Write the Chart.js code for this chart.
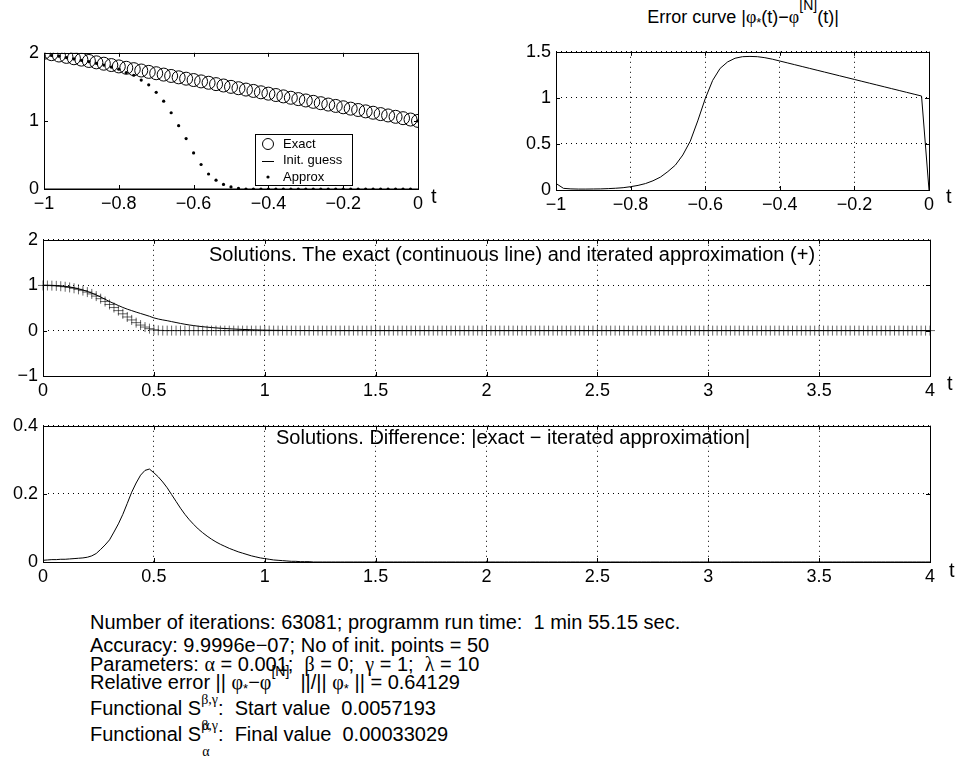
<!DOCTYPE html>
<html>
<head>
<meta charset="utf-8">
<script src="https://cdn.jsdelivr.net/npm/chart.js@4.4.0/dist/chart.umd.min.js"></script>
<style>
  body { margin: 0; background: #fff; width: 956px; height: 757px; position: relative; overflow: hidden;
         font-family: "Liberation Sans", Arial, Helvetica, sans-serif; color: #000; }
  canvas { position: absolute; }
  .txt { position: absolute; white-space: pre; font-size: 20px; line-height: 20px; }
  .g { font-family: "Liberation Serif", "DejaVu Serif", serif; }
  .up { position: relative; top: -13px; font-size: 14px; }
  .dn { position: relative; top: 4px; font-size: 13px; }
  .ss { position: relative; display: inline-block; }
  .ss .sp { position: relative; top: -11px; font-size: 14px; }
  .ss .sb { position: absolute; left: 1px; top: 18px; font-size: 14px; }
</style>
</head>
<body>
<canvas id="c1" width="442" height="186" style="left:0px;top:37px"></canvas>
<canvas id="c2" width="453" height="188" style="left:500px;top:36px"></canvas>
<canvas id="c3" width="950" height="186" style="left:0px;top:224px"></canvas>
<canvas id="c4" width="950" height="186" style="left:0px;top:410px"></canvas>

<div class="txt" style="left:743px;top:7px;font-size:18px;transform:translateX(-50%)">Error curve |<span class="g">φ</span><span class="dn">*</span>(t)−<span class="g">φ</span><span class="up">[N]</span>(t)|</div>
<div class="txt" style="left:431px;top:186px">t</div>
<div class="txt" style="left:946px;top:186px">t</div>
<div class="txt" style="left:947px;top:373px">t</div>
<div class="txt" style="left:949px;top:560px">t</div>
<div class="txt" style="left:512px;top:244px;transform:translateX(-50%)">Solutions. The exact (continuous line) and iterated approximation (+)</div>
<div class="txt" style="left:276px;top:427px">Solutions. Difference: |exact − iterated approximation|</div>

<div class="txt" style="left:90px;top:612px">Number of iterations: 63081; programm run time:  1 min 55.15 sec.</div>
<div class="txt" style="left:90px;top:635px">Accuracy: 9.9996e−07; No of init. points = 50</div>
<div class="txt" style="left:90px;top:654px">Parameters: <span class="g">α</span> = 0.001;  <span class="g">β</span> = 0;  <span class="g">γ</span> = 1;  <span class="g">λ</span> = 10</div>
<div class="txt" style="left:90px;top:672px">Relative error || <span class="g">φ</span><span class="dn">*</span>−<span class="g">φ</span><span class="up">[N]</span>  ||/|| <span class="g">φ</span><span class="dn">*</span> || = 0.64129</div>
<div class="txt" style="left:90px;top:698px">Functional S<span class="ss"><span class="sp g">β,γ</span><span class="sb g">α</span></span>:  Start value  0.0057193</div>
<div class="txt" style="left:90px;top:724px">Functional S<span class="ss"><span class="sp g">β,γ</span><span class="sb g">α</span></span>:  Final value  0.00033029</div>

<script>
// ---- data ----
// left panels: t = -1 .. 0, step 0.02 (51 nodes)
const tLeft = Array.from({ length: 51 }, (_, i) => +(-1 + i * 0.02).toFixed(2));
const exactLeft = [2.00, 1.98, 1.96, 1.94, 1.92, 1.90, 1.88, 1.86, 1.84, 1.82,
  1.80, 1.78, 1.76, 1.74, 1.72, 1.70, 1.68, 1.66, 1.64, 1.62,
  1.60, 1.58, 1.56, 1.54, 1.52, 1.50, 1.48, 1.46, 1.44, 1.42,
  1.40, 1.38, 1.36, 1.34, 1.32, 1.30, 1.28, 1.26, 1.24, 1.22,
  1.20, 1.18, 1.16, 1.14, 1.12, 1.10, 1.08, 1.06, 1.04, 1.02, 1.00];
const approxLeft = [1.93, 1.96, 1.95, 1.93, 1.91, 1.89, 1.87, 1.845, 1.82, 1.79,
  1.76, 1.71, 1.67, 1.60, 1.53, 1.42, 1.29, 1.12, 0.93, 0.74,
  0.53, 0.36, 0.22, 0.13, 0.067, 0.03, 0.01, 0, 0, 0,
  0, 0, 0, 0, 0, 0, 0, 0, 0, 0,
  0, 0, 0, 0, 0, 0, 0, 0, 0, 0, 1.00];
const initGuessT = [-1, 0];
const initGuess = [0, 0];
const errLeft = [0.071, 0.018, 0.012, 0.010, 0.010, 0.011, 0.012, 0.015, 0.019, 0.025,
  0.036, 0.050, 0.070, 0.100, 0.140, 0.200, 0.270, 0.380, 0.530, 0.750,
  0.990, 1.190, 1.320, 1.390, 1.430, 1.447, 1.450, 1.447, 1.436, 1.420,
  1.400, 1.380, 1.360, 1.340, 1.320, 1.300, 1.280, 1.260, 1.240, 1.220,
  1.200, 1.180, 1.160, 1.140, 1.120, 1.100, 1.080, 1.060, 1.040, 1.020, 0.000];

// lower panels: t = 0 .. 4, step 0.02 (201 nodes)
const tRight = Array.from({ length: 201 }, (_, i) => +(i * 0.02).toFixed(2));
const exactRight = [1.000, 0.999, 0.997, 0.993, 0.985, 0.974, 0.960, 0.942, 0.920, 0.893,
  0.862, 0.826, 0.785, 0.740, 0.690, 0.640, 0.596, 0.552, 0.510, 0.472,
  0.440, 0.407, 0.377, 0.347, 0.316, 0.280, 0.255, 0.235, 0.218, 0.198,
  0.178, 0.158, 0.140, 0.124, 0.110, 0.097, 0.086, 0.076, 0.067, 0.059,
  0.052, 0.046, 0.040, 0.035, 0.030, 0.026, 0.022, 0.018, 0.015, 0.012,
  0.010, 0.008, 0.006, 0.005, 0.004, 0.003, 0.002, 0.002, 0.001, 0.001,
  0.001,
  0, 0, 0, 0, 0, 0, 0, 0, 0, 0, 0, 0, 0, 0, 0, 0, 0, 0, 0, 0,
  0, 0, 0, 0, 0, 0, 0, 0, 0, 0, 0, 0, 0, 0, 0, 0, 0, 0, 0, 0,
  0, 0, 0, 0, 0, 0, 0, 0, 0, 0, 0, 0, 0, 0, 0, 0, 0, 0, 0, 0,
  0, 0, 0, 0, 0, 0, 0, 0, 0, 0, 0, 0, 0, 0, 0, 0, 0, 0, 0, 0,
  0, 0, 0, 0, 0, 0, 0, 0, 0, 0, 0, 0, 0, 0, 0, 0, 0, 0, 0, 0,
  0, 0, 0, 0, 0, 0, 0, 0, 0, 0, 0, 0, 0, 0, 0, 0, 0, 0, 0, 0,
  0, 0, 0, 0, 0, 0, 0, 0, 0, 0, 0, 0, 0, 0, 0, 0, 0, 0, 0, 0];
const approxRight = [0.995, 0.993, 0.990, 0.986, 0.977, 0.966, 0.951, 0.932, 0.909, 0.881,
  0.848, 0.808, 0.760, 0.703, 0.640, 0.575, 0.508, 0.440, 0.370, 0.300,
  0.235, 0.175, 0.122, 0.078, 0.043, 0.018, 0.005,
  0, 0, 0, 0, 0, 0, 0, 0, 0, 0, 0, 0, 0, 0, 0, 0, 0, 0, 0, 0,
  0, 0, 0, 0, 0, 0, 0, 0, 0, 0, 0, 0, 0, 0, 0, 0, 0, 0, 0, 0,
  0, 0, 0, 0, 0, 0, 0, 0, 0, 0, 0, 0, 0, 0, 0, 0, 0, 0, 0, 0,
  0, 0, 0, 0, 0, 0, 0, 0, 0, 0, 0, 0, 0, 0, 0, 0, 0, 0, 0, 0,
  0, 0, 0, 0, 0, 0, 0, 0, 0, 0, 0, 0, 0, 0, 0, 0, 0, 0, 0, 0,
  0, 0, 0, 0, 0, 0, 0, 0, 0, 0, 0, 0, 0, 0, 0, 0, 0, 0, 0, 0,
  0, 0, 0, 0, 0, 0, 0, 0, 0, 0, 0, 0, 0, 0, 0, 0, 0, 0, 0, 0,
  0, 0, 0, 0, 0, 0, 0, 0, 0, 0, 0, 0, 0, 0, 0, 0, 0, 0, 0, 0,
  0, 0, 0, 0, 0, 0, 0, 0, 0, 0, 0, 0, 0, 0];
const diffRight = [0.005, 0.006, 0.007, 0.007, 0.008, 0.008, 0.009, 0.010, 0.011, 0.012,
  0.014, 0.018, 0.025, 0.037, 0.050, 0.065, 0.088, 0.112, 0.140, 0.172,
  0.205, 0.232, 0.255, 0.269, 0.273, 0.262, 0.250, 0.235, 0.218, 0.198,
  0.178, 0.158, 0.140, 0.124, 0.110, 0.097, 0.086, 0.076, 0.067, 0.059,
  0.052, 0.046, 0.040, 0.035, 0.030, 0.026, 0.022, 0.018, 0.015, 0.012,
  0.010, 0.008, 0.006, 0.005, 0.004, 0.003, 0.002, 0.002, 0.001, 0.001,
  0.001,
  0, 0, 0, 0, 0, 0, 0, 0, 0, 0, 0, 0, 0, 0, 0, 0, 0, 0, 0, 0,
  0, 0, 0, 0, 0, 0, 0, 0, 0, 0, 0, 0, 0, 0, 0, 0, 0, 0, 0, 0,
  0, 0, 0, 0, 0, 0, 0, 0, 0, 0, 0, 0, 0, 0, 0, 0, 0, 0, 0, 0,
  0, 0, 0, 0, 0, 0, 0, 0, 0, 0, 0, 0, 0, 0, 0, 0, 0, 0, 0, 0,
  0, 0, 0, 0, 0, 0, 0, 0, 0, 0, 0, 0, 0, 0, 0, 0, 0, 0, 0, 0,
  0, 0, 0, 0, 0, 0, 0, 0, 0, 0, 0, 0, 0, 0, 0, 0, 0, 0, 0, 0,
  0, 0, 0, 0, 0, 0, 0, 0, 0, 0, 0, 0, 0, 0, 0, 0, 0, 0, 0, 0];

// ticks
const ticksLeftX = [-1, -0.8, -0.6, -0.4, -0.2, 0];
const labelsLeftX = ['−1', '−0.8', '−0.6', '−0.4', '−0.2', '0'];
const ticksSolY = [0, 1, 2];
const labelsSolY = ['0', '1', '2'];
const ticksErrY = [0, 0.5, 1, 1.5];
const labelsErrY = ['0', '0.5', '1', '1.5'];
const ticksRightX = [0, 0.5, 1, 1.5, 2, 2.5, 3, 3.5, 4];
const labelsRightX = ['0', '0.5', '1', '1.5', '2', '2.5', '3', '3.5', '4'];
const ticksMidY = [-1, 0, 1, 2];
const labelsMidY = ['−1', '0', '1', '2'];
const ticksDiffY = [0, 0.2, 0.4];
const labelsDiffY = ['0', '0.2', '0.4'];

const pts = (ts, vs) => vs.map((v, i) => ({ x: ts[i], y: v }));

Chart.defaults.font.family = '"Liberation Sans", Arial, Helvetica, sans-serif';
Chart.defaults.font.size = 18;
Chart.defaults.color = '#000';

// axes box with inward tick marks on all four sides
const frame = {
  id: 'frame',
  afterDraw(chart) {
    const { ctx, chartArea: a, scales: { x, y } } = chart;
    ctx.save();
    ctx.strokeStyle = '#000';
    ctx.lineWidth = 1;
    ctx.strokeRect(Math.round(a.left) + 0.5, Math.round(a.top) + 0.5,
      Math.round(a.right - a.left), Math.round(a.bottom - a.top));
    ctx.beginPath();
    x.ticks.forEach(t => {
      const px = Math.round(x.getPixelForValue(t.value)) + 0.5;
      ctx.moveTo(px, a.bottom); ctx.lineTo(px, a.bottom - 4);
      ctx.moveTo(px, a.top); ctx.lineTo(px, a.top + 4);
    });
    y.ticks.forEach(t => {
      const py = Math.round(y.getPixelForValue(t.value)) + 0.5;
      ctx.moveTo(a.left, py); ctx.lineTo(a.left + 4, py);
      ctx.moveTo(a.right, py); ctx.lineTo(a.right - 4, py);
    });
    ctx.stroke();
    ctx.restore();
  }
};

// boxed legend inside the plot area
const boxLegend = {
  id: 'boxLegend',
  afterDraw(chart, args, o) {
    if (!o.show) return;
    const { ctx, chartArea: a } = chart;
    const x0 = Math.round(a.left + o.left), y0 = Math.round(a.top + o.top);
    ctx.save();
    ctx.fillStyle = '#fff';
    ctx.fillRect(x0, y0, o.w, o.h);
    ctx.strokeStyle = '#000';
    ctx.lineWidth = 1;
    ctx.strokeRect(x0 + 0.5, y0 + 0.5, o.w, o.h);
    ctx.font = '13px "Liberation Sans", Arial, sans-serif';
    ctx.fillStyle = '#000';
    ctx.textBaseline = 'middle';
    chart.data.datasets.forEach((ds, i) => {
      const cy = y0 + 10 + i * 16.5, sx = x0 + 13;
      ctx.beginPath();
      if (ds.showLine) {
        ctx.moveTo(sx - 6, Math.round(cy) + 0.5); ctx.lineTo(sx + 6, Math.round(cy) + 0.5); ctx.stroke();
      } else if (ds.pointRadius > 3) {
        ctx.arc(sx, cy, 5.5, 0, Math.PI * 2); ctx.stroke();
      } else {
        ctx.arc(sx, cy, 1.6, 0, Math.PI * 2); ctx.fill();
      }
      ctx.fillText(ds.label, x0 + 28, cy);
    });
    ctx.restore();
  }
};

function axis(min, max, ticks, labels, size, isX, grid) {
  return {
    type: 'linear', min, max,
    afterBuildTicks: s => { s.ticks = ticks.map(v => ({ value: v })); },
    afterFit: s => { if (isX) s.height = size; else s.width = size; },
    ticks: { autoSkip: false, maxRotation: 0, padding: isX ? 4 : 5,
      callback: (v, i) => labels[i] },
    grid: { display: grid, drawTicks: false, color: '#000', lineWidth: 1 },
    border: { display: false, dash: [1, 4] }
  };
}

function panel(id, datasets, xAxis, yAxis, padT, padR, legendOpts) {
  return new Chart(document.getElementById(id), {
    type: 'scatter',
    data: { datasets },
    options: {
      responsive: false, animation: false, devicePixelRatio: 1,
      layout: { padding: { top: padT, right: padR, left: 0, bottom: 0 } },
      scales: { x: xAxis, y: yAxis },
      plugins: { legend: { display: false }, tooltip: { enabled: false },
        boxLegend: legendOpts || { show: false } }
    },
    plugins: [frame, boxLegend]
  });
}

// top left: exact solution, initial guess and approximation
panel('c1', [
  { label: 'Exact', data: pts(tLeft, exactLeft), showLine: false, pointStyle: 'circle',
    pointRadius: 6.5, borderColor: '#000', borderWidth: 1, backgroundColor: 'rgba(0,0,0,0)' },
  { label: 'Init. guess', data: pts(initGuessT, initGuess), showLine: true, pointRadius: 0,
    borderColor: '#000', borderWidth: 1 },
  { label: 'Approx', data: pts(tLeft, approxLeft), showLine: false, pointRadius: 1.6,
    backgroundColor: '#000', borderWidth: 0 }
], axis(-1, 0, ticksLeftX, labelsLeftX, 34, true, false),
   axis(0, 2, ticksSolY, labelsSolY, 44, false, false), 12, 24,
   { show: true, left: 211, top: 81, w: 97, h: 51 });

// top right: error curve
panel('c2', [
  { label: 'Error', data: pts(tLeft, errLeft), showLine: true, pointRadius: 0,
    borderColor: '#000', borderWidth: 1 }
], axis(-1, 0, ticksLeftX, labelsLeftX, 34, true, true),
   axis(0, 1.5, ticksErrY, labelsErrY, 56, false, true), 12, 24);

// middle: exact solution and iterated approximation
panel('c3', [
  { label: 'Exact', data: pts(tRight, exactRight), showLine: true, pointRadius: 0,
    borderColor: '#000', borderWidth: 1 },
  { label: 'Iterated', data: pts(tRight, approxRight), showLine: false, pointStyle: 'cross',
    pointRadius: 5, borderColor: 'rgba(0,0,0,0.6)', borderWidth: 1, clip: false }
], axis(0, 4, ticksRightX, labelsRightX, 34, true, true),
   axis(-1, 2, ticksMidY, labelsMidY, 43, false, true), 12, 20);

// bottom: absolute difference
panel('c4', [
  { label: 'Difference', data: pts(tRight, diffRight), showLine: true, pointRadius: 0,
    borderColor: '#000', borderWidth: 1 }
], axis(0, 4, ticksRightX, labelsRightX, 34, true, true),
   axis(0, 0.4, ticksDiffY, labelsDiffY, 43, false, true), 12, 20);
</script>
</body>
</html>
